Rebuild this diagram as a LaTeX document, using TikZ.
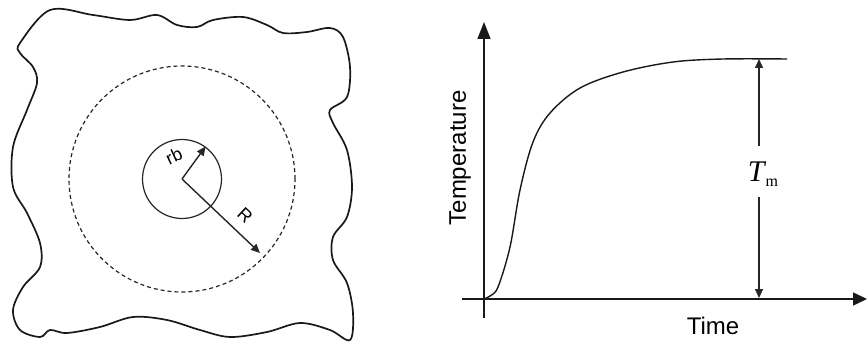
\documentclass[tikz,border=0pt]{standalone}
\usepackage{fontspec}
\setmainfont{Liberation Sans}
\newfontfamily\seriffont{Liberation Serif}
\usetikzlibrary{arrows.meta}
\tikzset{
  outline/.style={line width=1.7pt, black!90},
  thin/.style={line width=1.2pt, black!85},
  dim/.style={line width=1.4pt, black!85, -{Triangle[length=9pt,width=8pt]}},
  axis/.style={line width=1.5pt, black!90},
  lab/.style={font=\fontsize{24}{24}\selectfont, inner sep=0pt},
  smalllab/.style={font=\fontsize{18}{18}\selectfont, inner sep=0pt},
}
\begin{document}
\begin{tikzpicture}[x=1pt,y=-1pt]
\useasboundingbox (0,0) rectangle (867,342);
% ---- left figure: irregular body
\draw[outline] plot[smooth cycle, tension=0.55] coordinates {
 (20,43) (50,10) (93,15) (130,20) (157,15) (177,25) (197,27) (213,20) (243,17)
 (267,25) (283,33) (307,32) (330,28) (343,37) (350,67) (347,97) (330,110)
 (333,123) (347,150) (352,187) (347,217) (333,237) (333,260) (347,283)
 (353,313) (350,340) (330,330) (300,323) (267,332) (230,337) (200,330)
 (167,320) (133,317) (100,327) (67,333) (50,330) (40,337) (20,330) (13,310)
 (23,287) (40,267) (40,243) (27,213) (13,187) (13,147) (27,110) (37,83)
 (33,67) (20,53)};
\coordinate (c) at (182,179);
\node[draw, thin, circle, minimum size=79pt, inner sep=0pt] (bore) at (c) {};
\node[draw, thin, circle, minimum size=226pt, inner sep=0pt, dash pattern=on 4pt off 3pt] (zone) at (c) {};
\coordinate (rend) at (260,253);
\draw[dim] (c) -- (bore.54);
\draw[dim] (c) -- (rend);
\node[smalllab, rotate=25] (rb) at (174,156) {rb};
\node[smalllab, rotate=-43] (Rl) at (245,215) {R};
% ---- right figure: temperature history
\coordinate (o) at (484,299);
\coordinate (ytop) at (484,22);
\coordinate (yb) at (484,318);
\coordinate (xl) at (462,299);
\coordinate (xr) at (867,299);
\draw[axis, -{Triangle[length=17pt,width=13pt]}] (yb) -- (ytop);
\draw[axis, -{Triangle[length=14pt,width=13pt]}] (xl) -- (xr);
\draw[line width=1.4pt, black!90] plot[smooth, tension=0.55] coordinates {
 (484,299) (490,296) (498,287) (510,247) (520,190) (533,142) (550,113)
 (580,88) (623,72) (673,62) (723,59) (787,59)};
\node[inner sep=0pt] (tm) at (763,174) {\seriffont\fontsize{30}{30}\selectfont\itshape T\kern1pt\raisebox{-5pt}{\upshape\fontsize{16}{16}\selectfont m}};
\coordinate (mtop) at (759,59);
\coordinate (mbot) at (759,298);
\coordinate (gapt) at (759,146);
\coordinate (gapb) at (759,197);
\draw[dim] (gapt) -- (mtop);
\draw[dim] (gapb) -- (mbot);
\node[lab, rotate=90] (temp) at (460,158) {Temperature};
\node[lab] (time) at (713,326) {Time};
\end{tikzpicture}
\end{document}
